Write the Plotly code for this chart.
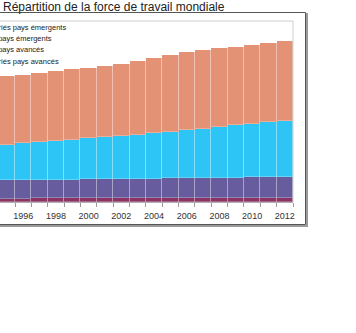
import plotly.graph_objects as go

# Main labour-force breakdown, millions of workers
years = list(range(1995, 2013))
non_salaries_avances = [66, 67, 68, 69, 70, 71, 72, 73, 74, 75, 76, 77, 78, 79, 80, 82, 83, 85]
salaries_avances = [354, 357, 359, 362, 364, 367, 369, 371, 374, 376, 379, 381, 384, 387, 390, 393, 396, 399]
salaries_emergents = [688, 709, 728, 750, 771, 792, 812, 833, 854, 876, 903, 930, 957, 984, 1011, 1038, 1065, 1092]
non_salaries_emergents = [1321, 1331, 1342, 1350, 1358, 1364, 1379, 1393, 1420, 1462, 1493, 1507, 1528, 1536, 1517, 1519, 1534, 1542]

series = [
    ("Non salariés pays avancés", non_salaries_avances, "#8B3464"),
    ("Salariés pays avancés", salaries_avances, "#665C9E"),
    ("Salariés pays émergents", salaries_emergents, "#2DC5F5"),
    ("Non salariés pays émergents", non_salaries_emergents, "#E49276"),
]
tick_years = list(range(1996, 2013, 2))
title_text = "Répartition de la force de travail mondiale"

W, H = 356, 333
ML, MR, MT, MB = 0, 63, 21, 131
PW, PH = W - ML - MR, H - MT - MB
YEAR_PX = 16.35


def xp(px):
    return (px - ML) / PW


def yp(py):
    return (H - MB - py) / PH


fig = go.Figure()
for name, vals, color in series:
    fig.add_trace(go.Bar(
        x=years, y=vals, name=name, width=1,
        marker=dict(color=color, line=dict(color="rgba(255,255,255,0.25)", width=1)),
        showlegend=False,
    ))

font = "Liberation Sans, Arial, sans-serif"
annotations = [
    dict(text=title_text, x=xp(2), y=yp(7), xref="paper", yref="paper",
         xanchor="left", yanchor="middle", showarrow=False, borderpad=0,
         font=dict(family=font, size=12, color="#222")),
]
# legend labels, top entry first
for i, (name, _, _) in enumerate(reversed(series)):
    annotations.append(dict(
        text=name, x=xp(-33), y=yp(27.5 + i * 11.2), xref="paper", yref="paper",
        xanchor="left", yanchor="middle", showarrow=False, align="left",
        font=dict(family=font, size=7.5, color="#222"),
    ))

shapes = [
    # frame shadow and frame
    dict(type="rect", xref="paper", yref="paper", x0=xp(-60), x1=xp(307), y0=yp(226), y1=yp(14),
         line=dict(color="#9a9a9a", width=2), layer="below"),
    dict(type="rect", xref="paper", yref="paper", x0=xp(-60), x1=xp(305.5), y0=yp(224.5), y1=yp(12.5),
         line=dict(color="#555", width=1), fillcolor="white", layer="below"),
    # plot area border (top and right)
    dict(type="line", xref="paper", yref="paper", x0=xp(-60), x1=1, y0=1, y1=1,
         line=dict(color="#cfcfcf", width=1)),
    dict(type="line", xref="paper", yref="paper", x0=1, x1=1, y0=0, y1=1,
         line=dict(color="#cfcfcf", width=1)),
]

fig.update_layout(
    width=W, height=H,
    margin=dict(l=ML, r=MR, t=MT, b=MB, autoexpand=False),
    paper_bgcolor="white", plot_bgcolor="white",
    barmode="stack", bargap=0,
    annotations=annotations, shapes=shapes,
    xaxis=dict(
        range=[2012.5 - PW / YEAR_PX, 2012.5],
        tickmode="array", tickvals=tick_years, ticktext=[str(y) for y in tick_years],
        ticks="outside", ticklen=5, tickcolor="rgba(0,0,0,0)",
        tickfont=dict(family=font, size=9, color="#333"),
        showgrid=False, zeroline=False,
        showline=True, linecolor="#b0b0b0", linewidth=1,
        minor=dict(tickmode="array", tickvals=[y + 0.5 for y in [years[0] - 1] + years],
                   ticks="outside", ticklen=4, tickcolor="#999", showgrid=False),
    ),
    yaxis=dict(range=[0, 3500], visible=False, showgrid=False),
)

fig.write_html("out.html")
